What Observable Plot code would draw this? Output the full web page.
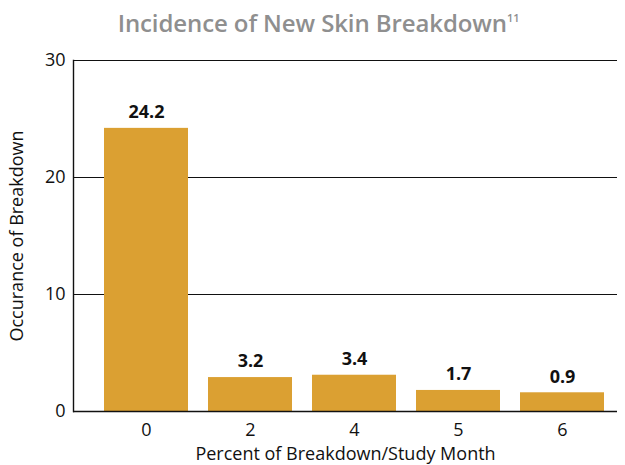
<!DOCTYPE html>
<html><head><meta charset="utf-8">
<script src="https://cdn.jsdelivr.net/npm/d3@7"></script>
<script src="https://cdn.jsdelivr.net/npm/@observablehq/plot@0.6"></script>
<style>
body{margin:0;background:#fff;font-family:"Open Sans",sans-serif;}
#title{width:625px;height:45px;box-sizing:border-box;padding-top:6px;padding-left:12px;text-align:center;font-size:24px;font-weight:600;color:#8f8f8f;letter-spacing:-0.1px;}
#title sup{font-size:11px;vertical-align:10px;}
</style></head><body>
<div id="title">Incidence of New Skin Breakdown<sup>11</sup></div>
<div id="chart"></div>
<script>
const months = ["0", "2", "4", "5", "6"];
const barValues = [24.2, 2.9, 3.1, 1.8, 1.6];
const valueLabels = ["24.2", "3.2", "3.4", "1.7", "0.9"];
const yTicks = [0, 10, 20, 30];
const yTitle = "Occurance of Breakdown";
const xTitle = "Percent of Breakdown/Study Month";

const data = months.map((m, i) => ({month: m, value: barValues[i], label: valueLabels[i]}));

const chart = Plot.plot({
  width: 625, height: 420,
  marginTop: 15, marginBottom: 54, marginLeft: 73, marginRight: 8,
  style: {fontFamily: "Open Sans, sans-serif", fontSize: "17px", color: "#111", background: "#fff"},
  x: {domain: months, range: [102, 606], paddingInner: 0.19, paddingOuter: 0, label: null},
  y: {domain: [0, 30], label: null},
  marks: [
    Plot.ruleY(yTicks.filter(d => d > 0), {stroke: "#111", strokeWidth: 1.2}),
    Plot.barY(data, {x: "month", y: "value", fill: "#DBA032"}),
    Plot.ruleY([0], {stroke: "#111", strokeWidth: 1.4}),
    Plot.frame({anchor: "left", stroke: "#111", strokeWidth: 1.4}),
    Plot.axisY({ticks: yTicks, tickSize: 0, tickPadding: 8, label: null, fontSize: 18}),
    Plot.axisX({tickSize: 0, tickPadding: 12, label: null, fontSize: 18}),
    Plot.text(data, {x: "month", y: "value", text: "label", dy: -16, fontWeight: "bold", fontSize: 18, fill: "#111"}),
    Plot.text([yTitle], {frameAnchor: "left", textAnchor: "middle", dx: -56, rotate: -90, fontSize: 18, fill: "#111"}),
    Plot.text([xTitle], {frameAnchor: "bottom", dy: 48, fontSize: 18, fill: "#111"})
  ]
});
document.getElementById("chart").append(chart);
</script>
</body></html>
